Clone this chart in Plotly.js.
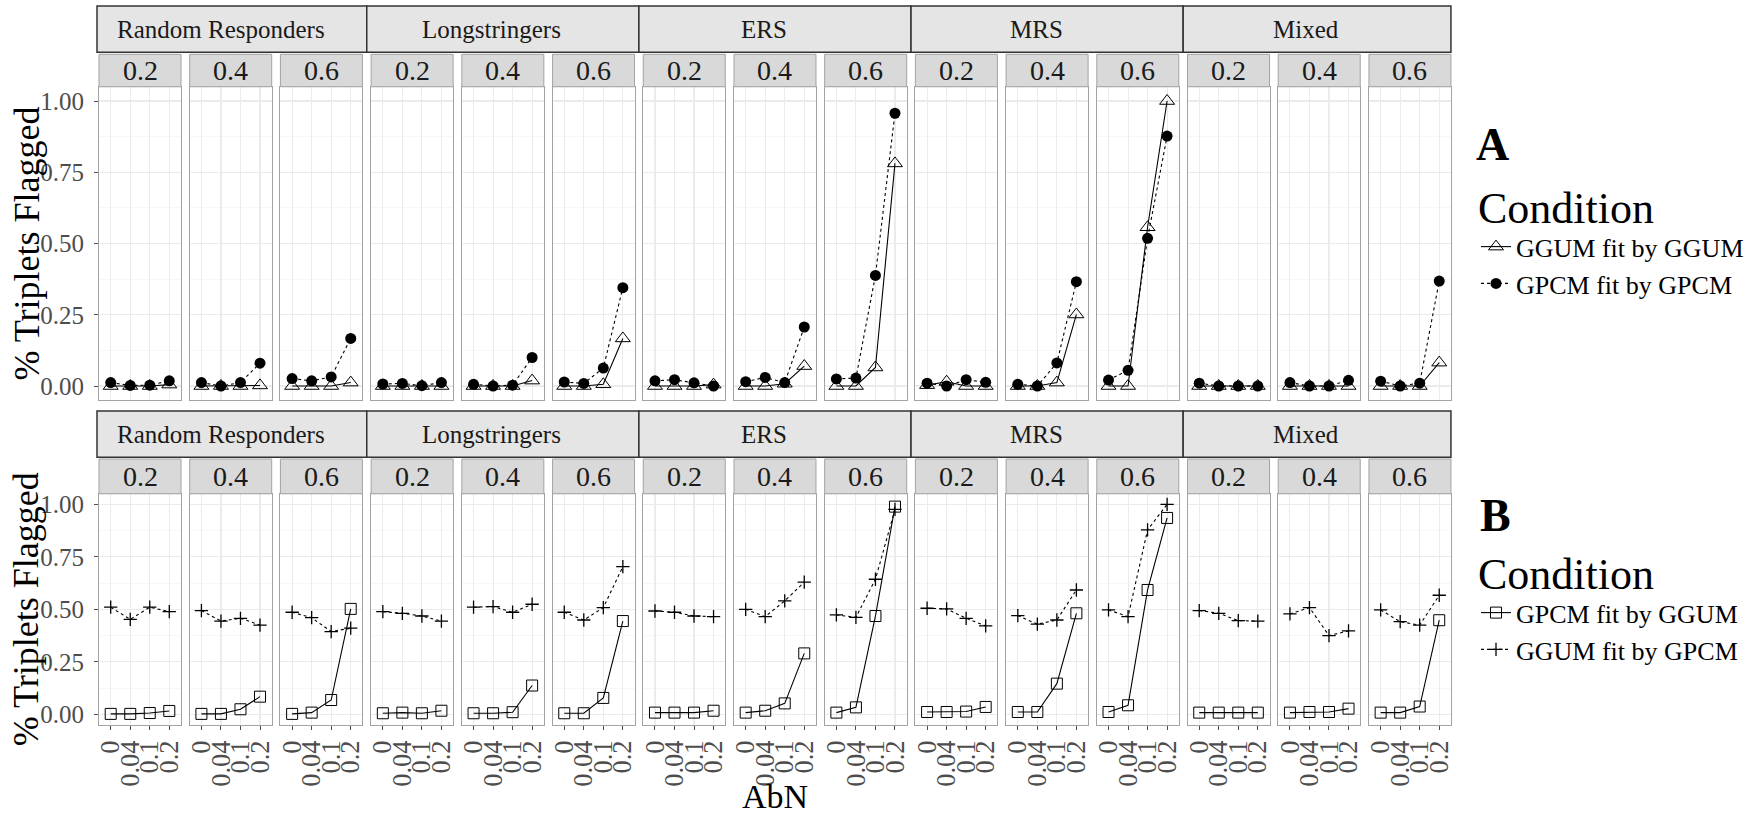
<!DOCTYPE html>
<html>
<head>
<meta charset="utf-8">
<script src="https://cdn.plot.ly/plotly-3.0.1.min.js"></script>
<style>
  html, body { margin: 0; padding: 0; background: #ffffff; }
  #chart { width: 1751px; height: 817px; }
</style>
</head>
<body>
<div id="chart"></div>
<script>
// AbN levels on the x axis of every facet
const abn = ['0', '0.04', '0.1', '0.2'];
// Facet layout: response-style condition (columns of 3) by proportion
const conditions = ['Random Responders', 'Longstringers', 'ERS', 'MRS', 'Mixed'];
const proportions = ['0.2', '0.4', '0.6'];

// Panel A: proportion of triplets flagged, one row of 4 values per facet
const ggumByGgum = [
  [0, 0, 0, 0.005], [0, 0, 0, 0.002], [0, 0, 0, 0.012],
  [0, 0, 0, 0], [0, 0, 0, 0.019], [0, 0, 0.006, 0.167],
  [0, 0, 0, 0.005], [0, 0, 0.008, 0.07], [0, 0, 0.065, 0.781],
  [0.003, 0.015, 0, 0], [0, 0, 0.012, 0.251], [0, 0, 0.557, 1.0],
  [0, 0, 0, 0], [0, 0, 0, 0], [0, 0, 0, 0.082]
];
const gpcmByGpcm = [
  [0.012, 0.002, 0.003, 0.018], [0.012, 0.0, 0.012, 0.08], [0.026, 0.018, 0.032, 0.167],
  [0.007, 0.009, 0.001, 0.012], [0.006, 0.0, 0.003, 0.10], [0.014, 0.009, 0.063, 0.345],
  [0.018, 0.022, 0.011, 0.0], [0.015, 0.03, 0.012, 0.207], [0.025, 0.028, 0.388, 0.957],
  [0.01, 0.0, 0.022, 0.013], [0.006, 0.0, 0.081, 0.366], [0.021, 0.055, 0.518, 0.877],
  [0.01, 0, 0, 0], [0.012, 0, 0, 0.02], [0.017, 0, 0.01, 0.368]
];

// Panel B
const gpcmByGgum = [
  [0.002, 0.002, 0.006, 0.016], [0.002, 0.002, 0.024, 0.084], [0.002, 0.008, 0.068, 0.502],
  [0.005, 0.008, 0.005, 0.017], [0.005, 0.005, 0.01, 0.137], [0.005, 0.005, 0.078, 0.444],
  [0.008, 0.008, 0.008, 0.017], [0.008, 0.017, 0.052, 0.29], [0.008, 0.033, 0.468, 0.989],
  [0.011, 0.011, 0.013, 0.035], [0.011, 0.011, 0.146, 0.481], [0.011, 0.043, 0.592, 0.935],
  [0.008, 0.008, 0.008, 0.008], [0.008, 0.011, 0.011, 0.027], [0.008, 0.008, 0.037, 0.448]
];
const ggumByGpcm = [
  [0.51, 0.452, 0.51, 0.489], [0.494, 0.444, 0.457, 0.425], [0.486, 0.46, 0.394, 0.41],
  [0.489, 0.481, 0.468, 0.444], [0.51, 0.513, 0.486, 0.524], [0.486, 0.449, 0.508, 0.703],
  [0.492, 0.486, 0.468, 0.465], [0.5, 0.465, 0.54, 0.629], [0.473, 0.462, 0.643, 0.976],
  [0.505, 0.502, 0.457, 0.421], [0.47, 0.429, 0.449, 0.592], [0.497, 0.465, 0.878, 1.0],
  [0.494, 0.481, 0.446, 0.444], [0.478, 0.508, 0.375, 0.397], [0.497, 0.441, 0.425, 0.567]
];

const yTicks = [0, 0.25, 0.5, 0.75, 1];

// ---- geometry (pixels of the 1751 x 817 canvas) ----
const W = 1751, H = 817;
const FONT = '"Liberation Serif", "Times New Roman", serif';
const px = v => v / W;
const py = v => 1 - v / H;
const PANEL_LEFT = 99, PANEL_PITCH = 90.71, PANEL_W = 82;
const rows = [
  { top: 86.75, bottom: 400.25, stripTop: 6, stripBot: 52.3, subTop: 54.3, subBot: 86.75,
    series: [
      { name: 'GGUM fit by GGUM', data: ggumByGgum, dash: 'solid',
        marker: { symbol: 'triangle-up-open', size: 13, color: '#000', line: { width: 1, color: '#000' } } },
      { name: 'GPCM fit by GPCM', data: gpcmByGpcm, dash: '3px,3px',
        marker: { symbol: 'circle', size: 11, color: '#000', line: { width: 0 } } }
    ], legend: 'legend', showX: false },
  { top: 493.8, bottom: 724.8, stripTop: 411, stripBot: 457.3, subTop: 459, subBot: 493.8,
    series: [
      { name: 'GPCM fit by GGUM', data: gpcmByGgum, dash: 'solid',
        marker: { symbol: 'square-open', size: 11, color: '#000', line: { width: 1, color: '#000' } } },
      { name: 'GGUM fit by GPCM', data: ggumByGpcm, dash: '3px,3px',
        marker: { symbol: 'cross-thin', size: 9.5, color: '#000', line: { width: 1.3, color: '#000' } } }
    ], legend: 'legend2', showX: true }
];

const traces = [];
const layout = {
  width: W, height: H,
  margin: { l: 0, r: 0, t: 0, b: 0 },
  paper_bgcolor: '#ffffff', plot_bgcolor: '#ffffff',
  font: { family: FONT, color: '#1A1A1A' },
  shapes: [], annotations: [],
  showlegend: true
};

const nFacets = conditions.length * proportions.length;

rows.forEach((row, r) => {
  for (let i = 0; i < nFacets; i++) {
    const n = r * nFacets + i + 1;
    const xName = 'xaxis' + (n === 1 ? '' : n);
    const yName = 'yaxis' + (n === 1 ? '' : n);
    const xRef = 'x' + (n === 1 ? '' : n);
    const yRef = 'y' + (n === 1 ? '' : n);
    const left = PANEL_LEFT + i * PANEL_PITCH;

    layout[xName] = {
      domain: [px(left), px(left + PANEL_W)],
      anchor: yRef,
      type: 'category',
      categoryorder: 'array', categoryarray: abn,
      range: [-0.6, 3.6],
      tickmode: 'array', tickvals: abn, ticktext: abn,
      showgrid: true, gridcolor: '#EBEBEB', gridwidth: 1.1,
      zeroline: false,
      showline: true, mirror: true, linecolor: '#A3A3A3', linewidth: 1,
      showticklabels: row.showX,
      ticks: row.showX ? 'outside' : '', ticklen: 4, tickwidth: 1, tickcolor: '#4D4D4D',
      tickangle: -90,
      tickfont: { family: FONT, size: 26.5, color: '#4D4D4D' },
      fixedrange: true
    };
    layout[yName] = {
      domain: [py(row.bottom), py(row.top)],
      anchor: xRef,
      range: [-0.05, 1.05],
      tickmode: 'array', tickvals: yTicks, tickformat: '.2f',
      showgrid: true, gridcolor: '#EBEBEB', gridwidth: 1.1,
      minor: { dtick: 0.125, tick0: 0, showgrid: true, gridcolor: '#F2F2F2', gridwidth: 0.6, ticks: '' },
      zeroline: false,
      showline: true, mirror: true, linecolor: '#A3A3A3', linewidth: 1,
      showticklabels: i === 0,
      ticks: i === 0 ? 'outside' : '', ticklen: 4, tickwidth: 1, tickcolor: '#4D4D4D',
      ticklabelstandoff: 5,
      tickfont: { family: FONT, size: 25, color: '#4D4D4D' },
      fixedrange: true
    };

    row.series.forEach(s => {
      traces.push({
        type: 'scatter', mode: 'lines+markers',
        x: abn, y: s.data[i],
        xaxis: xRef, yaxis: yRef,
        name: s.name, legend: row.legend, legendgroup: s.name,
        showlegend: i === 0,
        line: { color: '#000', width: 1.1, dash: s.dash },
        marker: s.marker,
        cliponaxis: false,
        hoverinfo: 'skip'
      });
    });

    // proportion strip above each facet
    layout.shapes.push({
      type: 'rect', xref: 'paper', yref: 'paper', layer: 'above',
      x0: px(left), x1: px(left + PANEL_W), y0: py(row.subBot), y1: py(row.subTop),
      fillcolor: '#D9D9D9', line: { color: '#A3A3A3', width: 1 }
    });
    layout.annotations.push({
      xref: 'paper', yref: 'paper', x: px(left + PANEL_W / 2), y: py((row.subTop + row.subBot) / 2),
      xanchor: 'center', yanchor: 'middle', showarrow: false,
      text: proportions[i % proportions.length],
      font: { family: FONT, size: 28, color: '#1A1A1A' }
    });
  }

  // condition strips spanning three facets
  conditions.forEach((c, k) => {
    const firstLeft = PANEL_LEFT + (3 * k) * PANEL_PITCH;
    const lastRight = PANEL_LEFT + (3 * k + 2) * PANEL_PITCH + PANEL_W;
    const gap = PANEL_PITCH - PANEL_W;
    const x0 = k === 0 ? firstLeft - 2 : firstLeft - gap / 2;
    const x1 = k === conditions.length - 1 ? lastRight : lastRight + gap / 2;
    layout.shapes.push({
      type: 'rect', xref: 'paper', yref: 'paper', layer: 'above',
      x0: px(x0), x1: px(x1), y0: py(row.stripBot), y1: py(row.stripTop),
      fillcolor: '#E5E5E5', line: { color: '#333333', width: 1.5 }
    });
    layout.annotations.push({
      xref: 'paper', yref: 'paper', x: px((x0 + x1) / 2 - 11), y: py((row.stripTop + row.stripBot) / 2),
      xanchor: 'center', yanchor: 'middle', showarrow: false,
      text: c, font: { family: FONT, size: 25, color: '#1A1A1A' }
    });
  });

  // y axis title for the row
  layout.annotations.push({
    xref: 'paper', yref: 'paper', x: px(26), y: py((row.top + row.bottom) / 2),
    xanchor: 'center', yanchor: 'middle', showarrow: false, textangle: -90,
    text: '% Triplets Flagged', font: { family: FONT, size: 36, color: '#000' }
  });
});

// x axis title under the lower row, kept inside the canvas
layout.annotations.push({
  xref: 'paper', yref: 'paper', x: px(775), y: py(816),
  xanchor: 'center', yanchor: 'bottom', showarrow: false, borderpad: 0,
  text: 'AbN', font: { family: FONT, size: 34, color: '#000' }
});
// row tags
layout.annotations.push({
  xref: 'paper', yref: 'paper', x: px(1492), y: py(144),
  xanchor: 'center', yanchor: 'middle', showarrow: false,
  text: '<b>A</b>', font: { family: FONT, size: 46, color: '#000' }
});
layout.annotations.push({
  xref: 'paper', yref: 'paper', x: px(1495), y: py(515),
  xanchor: 'center', yanchor: 'middle', showarrow: false,
  text: '<b>B</b>', font: { family: FONT, size: 46, color: '#000' }
});

const legendBase = {
  xanchor: 'left', yanchor: 'top',
  bgcolor: 'rgba(255,255,255,0)', borderwidth: 0,
  font: { family: FONT, size: 26, color: '#000' },
  tracegroupgap: 0, itemclick: false, itemdoubleclick: false
};
layout.legend = Object.assign({}, legendBase, {
  x: px(1476), y: py(166),
  title: { text: 'Condition', side: 'top', font: { family: FONT, size: 44, color: '#000' } }
});
layout.legend2 = Object.assign({}, legendBase, {
  x: px(1476), y: py(532),
  title: { text: 'Condition', side: 'top', font: { family: FONT, size: 44, color: '#000' } }
});

Plotly.newPlot('chart', traces, layout, { displayModeBar: false, staticPlot: true });
</script>
</body>
</html>
